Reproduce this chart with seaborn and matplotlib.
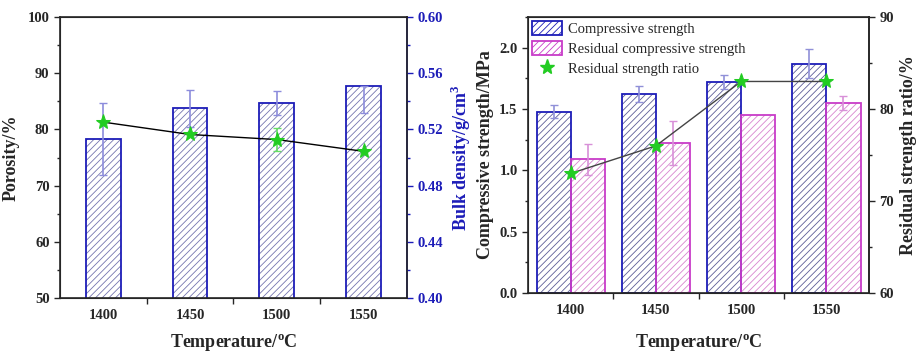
import numpy as np
import pandas as pd
import seaborn as sns
import matplotlib.pyplot as plt
from matplotlib.patches import Rectangle, Patch
from matplotlib.lines import Line2D
from matplotlib.ticker import MultipleLocator, FixedLocator

# dados
temps = [1400, 1450, 1500, 1550]

bulk_density = [0.5132, 0.5352, 0.5388, 0.5508]
bulk_err_lo = [0.0253, 0.0132, 0.0084, 0.0188]
bulk_err_hi = [0.0255, 0.0132, 0.0084, 0.0]
porosity = [81.3, 79.1, 78.2, 76.1]
porosity_err = [0.0, 0.0, 2.1, 0.0]

comp_strength = [1.48, 1.62, 1.72, 1.87]
comp_err = [0.057, 0.065, 0.058, 0.12]
resid_strength = [1.09, 1.22, 1.45, 1.55]
resid_err = [0.125, 0.18, 0.0, 0.055]
ratio = [73.0, 76.0, 83.0, 83.0]

BLUE = '#1c1cb8'
PINK = '#c83cc8'
GREEN = '#22cc22'
HATCH = '/////'

sns.set_style('ticks')
plt.rcParams['font.family'] = ['Liberation Serif', 'DejaVu Serif']
plt.rcParams['mathtext.fontset'] = 'custom'
plt.rcParams['mathtext.rm'] = 'Liberation Serif'
plt.rcParams['mathtext.bf'] = 'Liberation Serif:bold'
plt.rcParams['hatch.linewidth'] = 0.6


def estilo_barras(ax, patches, edge, hatch_col):
    for p in patches:
        p.set_facecolor('white')
        p.set_hatch(HATCH)
        p.set_edgecolor(hatch_col)
        p.set_linewidth(0)
        ax.add_patch(Rectangle(p.get_xy(), p.get_width(), p.get_height(), fill=False,
                               edgecolor=edge, lw=1.3, zorder=p.get_zorder() + 0.1))


def barras_erro(ax, x, y, lo, hi, cor, z):
    # so desenha as barras de erro que existem
    idx = [i for i in range(len(x)) if lo[i] > 0 or hi[i] > 0]
    ax.errorbar([x[i] for i in idx], [y[i] for i in idx],
                yerr=[[lo[i] for i in idx], [hi[i] for i in idx]], fmt='none',
                ecolor=cor, elinewidth=1.2, capsize=3, capthick=1, zorder=z)


def estilo_eixo(ax, xlabel):
    ax.set_xlim(1375, 1575)
    ax.set_xticks(temps)
    ax.xaxis.set_minor_locator(FixedLocator([1425, 1475, 1525]))
    ax.tick_params(axis='x', which='major', length=0, pad=8)
    ax.tick_params(axis='x', which='minor', length=4, width=1, direction='out')
    ax.tick_params(axis='y', which='major', length=4, width=1, direction='out')
    ax.tick_params(axis='y', which='minor', length=2.5, width=1, direction='out')
    for lab in ax.get_xticklabels() + ax.get_yticklabels():
        lab.set_fontweight('bold')
        lab.set_fontsize(10.5)
    ax.set_xlabel(xlabel, fontsize=13, fontweight='bold', labelpad=8)
    for s in ax.spines.values():
        s.set_linewidth(1.2)
        s.set_visible(True)


fig = plt.figure(figsize=(9.17, 3.56), dpi=100)

# ---- painel esquerdo: porosidade / densidade
ax = fig.add_axes([0.0654, 0.163, 0.3784, 0.789])
ax2 = ax.twinx()
ax.set_zorder(ax2.get_zorder() + 1)
ax.patch.set_visible(False)

df_bulk = pd.DataFrame({'Temperature': temps, 'Bulk': bulk_density})
sns.barplot(data=df_bulk, x='Temperature', y='Bulk', ax=ax2, native_scale=True,
            width=0.4, color='white', errorbar=None)
estilo_barras(ax2, list(ax2.patches), BLUE, '#7474b0')
xb = [p.get_x() + p.get_width() / 2 for p in ax2.containers[0]]
barras_erro(ax2, xb, bulk_density, bulk_err_lo, bulk_err_hi, '#8c8cdc', 5)

barras_erro(ax, temps, porosity, porosity_err, porosity_err, '#66dd66', 3)
sns.lineplot(x=temps, y=porosity, ax=ax, color='black', lw=1, marker='*',
             markersize=11, markerfacecolor=GREEN, markeredgecolor=GREEN, zorder=4)

ax.set_ylim(50, 100)
ax.yaxis.set_major_locator(MultipleLocator(10))
ax.yaxis.set_minor_locator(MultipleLocator(5))
ax.set_ylabel('Porosity/%', fontsize=13, fontweight='bold', labelpad=6)
estilo_eixo(ax, r'Temperature/$^{\mathbf{o}}$C')

ax2.set_ylim(0.40, 0.60)
ax2.yaxis.set_major_locator(MultipleLocator(0.04))
ax2.yaxis.set_minor_locator(MultipleLocator(0.02))
ax2.tick_params(axis='y', which='both', colors=BLUE, direction='out')
ax2.tick_params(axis='y', which='major', length=4, width=1)
ax2.tick_params(axis='y', which='minor', length=2.5, width=1)
for lab in ax2.get_yticklabels():
    lab.set_fontweight('bold')
    lab.set_fontsize(10.5)
ax2.spines['right'].set_color(BLUE)
ax2.spines['right'].set_linewidth(1.2)
ax2.set_xlabel('')
ax2.set_ylabel(r'Bulk density/g/cm$^{\mathbf{3}}$', fontsize=13, fontweight='bold',
               color=BLUE, labelpad=4)

# ---- painel direito: resistencia
bx = fig.add_axes([0.5758, 0.177, 0.3719, 0.775])
df_str = pd.DataFrame({
    'Temperature': temps * 2,
    'Strength': comp_strength + resid_strength,
    'Type': ['Compressive strength'] * 4 + ['Residual compressive strength'] * 4,
})
sns.barplot(data=df_str, x='Temperature', y='Strength', hue='Type', ax=bx,
            native_scale=True, width=0.8, errorbar=None, legend=False,
            palette=['white', 'white'])
estilo_barras(bx, list(bx.containers[0]), BLUE, '#5c5c98')
estilo_barras(bx, list(bx.containers[1]), PINK, '#d884d0')
xc = [p.get_x() + p.get_width() / 2 for p in bx.containers[0]]
xr = [p.get_x() + p.get_width() / 2 for p in bx.containers[1]]
barras_erro(bx, xc, comp_strength, comp_err, comp_err, '#9090d8', 5)
barras_erro(bx, xr, resid_strength, resid_err, resid_err, '#d890d8', 5)

bx.set_ylim(0, 2.25)
bx.yaxis.set_major_locator(MultipleLocator(0.5))
bx.yaxis.set_minor_locator(MultipleLocator(0.25))
bx.set_ylabel('Compressive strength/MPa', fontsize=13, fontweight='bold', labelpad=4)
estilo_eixo(bx, r'Temperature/$^{\mathbf{o}}$C')
bx.xaxis.labelpad = 11

bx2 = bx.twinx()
sns.lineplot(x=temps, y=ratio, ax=bx2, color='#444444', lw=1, marker='*',
             markersize=11, markerfacecolor=GREEN, markeredgecolor=GREEN)
bx2.set_ylim(60, 90)
bx2.yaxis.set_major_locator(MultipleLocator(10))
bx2.yaxis.set_minor_locator(MultipleLocator(5))
bx2.tick_params(axis='y', which='major', length=4, width=1, direction='out')
bx2.tick_params(axis='y', which='minor', length=2.5, width=1, direction='out')
for lab in bx2.get_yticklabels():
    lab.set_fontweight('bold')
    lab.set_fontsize(10.5)
bx2.spines['right'].set_linewidth(1.2)
bx2.set_ylabel('Residual strength ratio/%', fontsize=13, fontweight='bold', labelpad=4)

handles = [
    Patch(facecolor='white', edgecolor=BLUE, hatch=HATCH, lw=1.3),
    Patch(facecolor='white', edgecolor=PINK, hatch=HATCH, lw=1.3),
    Line2D([], [], ls='none', marker='*', markersize=11, color=GREEN),
]
bx2.legend(handles, ['Compressive strength', 'Residual compressive strength',
                     'Residual strength ratio'],
           loc='upper left', bbox_to_anchor=(0.0, 1.0), frameon=False, fontsize=10.5,
           handlelength=2.1, handleheight=1.1, handletextpad=0.4, labelspacing=0.35,
           borderaxespad=0.15, borderpad=0.1)

fig.savefig('out.png', dpi=100)
